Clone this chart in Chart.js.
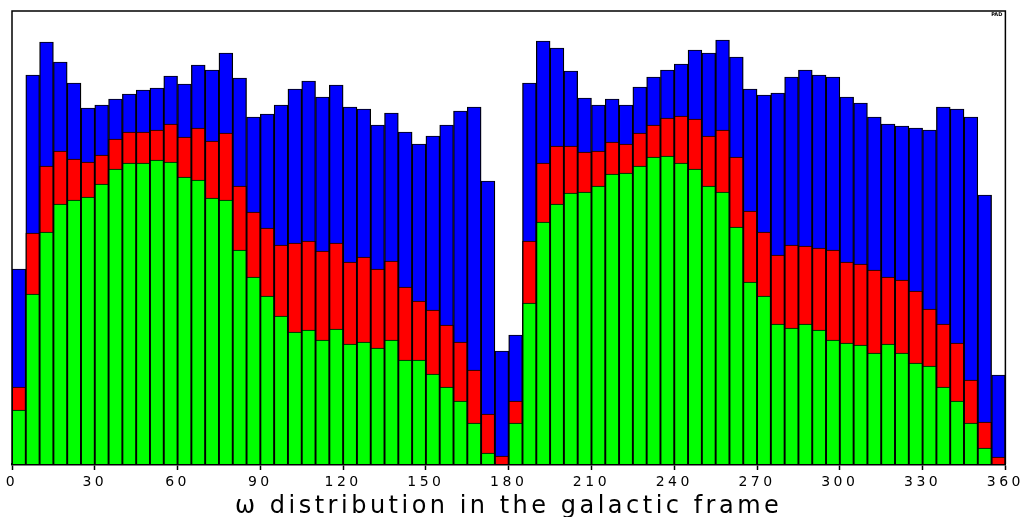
<!DOCTYPE html>
<html>
<head>
<meta charset="utf-8">
<script src="https://cdn.jsdelivr.net/npm/chart.js@4.4.1/dist/chart.umd.min.js"></script>
<style>
  html, body { margin: 0; padding: 0; background: #ffffff; }
  #wrap { width: 1028px; height: 517px; }
</style>
</head>
<body>
<div id="wrap"><canvas id="omegaChart" width="1028" height="517"></canvas></div>
<script>
// omega histogram, 72 bins of 5 degrees
const binWidth = 5;
const binStarts = Array.from({ length: 72 }, (_, i) => i * binWidth);

// cumulative heights (green <= red <= blue)
const greenCounts = [
  54, 170, 232, 260, 264, 267, 280, 295, 301, 301, 304, 302, 287, 284, 266, 264, 214, 187,
  168, 148, 132, 134, 124, 135, 120, 122, 116, 124, 104, 104, 90, 77, 63, 41, 11, 0,
  41, 161, 242, 260, 271, 272, 278, 290, 291, 298, 307, 308, 301, 295, 278, 272, 237, 182,
  168, 140, 136, 140, 134, 124, 121, 119, 111, 120, 111, 101, 98, 77, 63, 41, 16, 0
];
const redCounts = [
  77, 231, 298, 313, 305, 302, 309, 325, 332, 332, 334, 340, 327, 336, 323, 331, 278, 252,
  236, 219, 221, 223, 213, 221, 202, 207, 195, 203, 177, 163, 154, 139, 122, 94, 50, 8,
  63, 223, 301, 318, 318, 312, 313, 322, 320, 331, 339, 346, 348, 345, 328, 334, 307, 253,
  232, 209, 219, 218, 216, 214, 202, 200, 194, 187, 184, 173, 155, 140, 121, 84, 42, 7
];
const blueCounts = [
  195, 389, 422, 402, 381, 356, 359, 365, 370, 374, 376, 388, 380, 399, 394, 411, 386, 347,
  350, 359, 375, 383, 367, 379, 357, 355, 339, 351, 332, 320, 328, 339, 353, 357, 283, 113,
  129, 381, 423, 416, 393, 366, 359, 365, 359, 377, 387, 394, 400, 414, 411, 424, 407, 375,
  369, 371, 387, 394, 389, 387, 367, 361, 347, 340, 338, 336, 334, 357, 355, 347, 269, 89
];

const xTicks = [0, 30, 60, 90, 120, 150, 180, 210, 240, 270, 300, 330, 360];
const yMax = 453;

const toPoints = (vals) => vals.map((v, i) => ({ x: binStarts[i] + binWidth / 2, y: v }));

const barStyle = {
  grouped: false,
  barPercentage: 1,
  categoryPercentage: 1,
  borderColor: "#000000",
  borderWidth: { left: 1.3, right: 1.3, top: 1, bottom: 0 },
};

// wide spaced lettering like the original plot
const spacing = {
  id: "spacing",
  beforeUpdate(chart) {
    chart.ctx.letterSpacing = "3.5px";
  },
};

const frame = {
  id: "frame",
  afterDraw(chart) {
    const { ctx, chartArea } = chart;
    ctx.save();
    ctx.strokeStyle = "#000000";
    ctx.lineWidth = 1.5;
    ctx.beginPath();
    ctx.moveTo(chartArea.left, chartArea.bottom);
    ctx.lineTo(chartArea.left, chartArea.top);
    ctx.lineTo(chartArea.right, chartArea.top);
    ctx.lineTo(chartArea.right, chartArea.bottom);
    ctx.stroke();
    ctx.letterSpacing = "0px";
    ctx.fillStyle = "#000000";
    ctx.font = "bold 5px 'DejaVu Sans'";
    ctx.textAlign = "right";
    ctx.textBaseline = "middle";
    ctx.fillText("PAD", chartArea.right - 3, chartArea.top + 4);
    ctx.restore();
  },
};

new Chart(document.getElementById("omegaChart"), {
  type: "bar",
  data: {
    datasets: [
      { label: "green", data: toPoints(greenCounts), backgroundColor: "#00ff00", ...barStyle },
      { label: "red", data: toPoints(redCounts), backgroundColor: "#ff0000", ...barStyle },
      { label: "blue", data: toPoints(blueCounts), backgroundColor: "#0000ff", ...barStyle },
    ],
  },
  options: {
    responsive: false,
    animation: false,
    layout: {
      padding: { left: 12, right: 22, top: 11, bottom: 0 },
    },
    plugins: {
      legend: { display: false },
      tooltip: { enabled: false },
    },
    scales: {
      x: {
        type: "linear",
        min: 0,
        max: 360,
        offset: false,
        afterBuildTicks: (scale) => {
          scale.ticks = xTicks.map((v) => ({ value: v }));
        },
        afterFit: (scale) => {
          scale.height = 53;
        },
        grid: {
          offset: false,
          drawOnChartArea: false,
          drawTicks: true,
          tickLength: 6,
          tickWidth: 1.5,
          tickColor: "#000000",
        },
        border: { display: true, color: "#000000", width: 2.5 },
        ticks: {
          color: "#000000",
          padding: 4,
          maxRotation: 0,
          autoSkip: false,
          font: { family: "'DejaVu Sans'", size: 14 },
        },
        title: {
          display: true,
          text: "ω distribution in the galactic frame",
          color: "#000000",
          padding: { top: 0, bottom: -1.5 },
          font: { family: "'DejaVu Sans'", size: 24, lineHeight: 1 },
        },
      },
      y: {
        display: false,
        min: 0,
        max: yMax,
      },
    },
  },
  plugins: [spacing, frame],
});
</script>
</body>
</html>
